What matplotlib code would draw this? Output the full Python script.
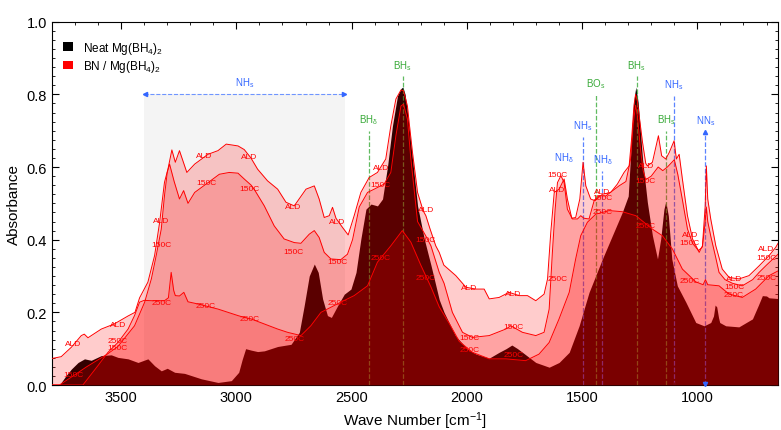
import numpy as np
import matplotlib
matplotlib.use("Agg")
import matplotlib.pyplot as plt
from matplotlib.patches import Patch, Rectangle
from matplotlib.ticker import MultipleLocator

plt.rcParams['font.family'] = ['Liberation Sans', 'DejaVu Sans']
plt.rcParams['mathtext.default'] = 'regular'

## ---- spectra (wave number, absorbance) ----
wn_neat = [3800, 3768, 3740, 3716, 3687, 3659, 3630, 3586, 3543, 3514, 3470, 3427, 3384, 3355,
           3326, 3300, 3268, 3225, 3152, 3080, 3022, 2990, 2975, 2960, 2936, 2908, 2879, 2821,
           2763, 2727, 2706, 2684, 2662, 2645, 2626, 2605, 2588, 2561, 2532, 2503, 2481, 2460,
           2438, 2416, 2388, 2366, 2344, 2323, 2301, 2286, 2278, 2268, 2258, 2236, 2214, 2185,
           2156, 2120, 2099, 2050, 2000, 1960, 1903, 1860, 1830, 1805, 1780, 1759, 1701, 1643,
           1600, 1556, 1513, 1470, 1441, 1412, 1369, 1326, 1300, 1289, 1280, 1272, 1267, 1257,
           1238, 1217, 1195, 1173, 1159, 1145, 1137, 1126, 1111, 1087, 1050, 1007, 971, 942,
           930, 923, 916, 908, 903, 877, 820, 761, 735, 718, 700, 689, 650]
abs_neat = [0.0, 0.0, 0.025, 0.044, 0.062, 0.072, 0.068, 0.081, 0.083, 0.076, 0.072, 0.062, 0.072, 0.053,
            0.039, 0.046, 0.035, 0.032, 0.017, 0.007, 0.012, 0.035, 0.07, 0.10, 0.096, 0.092, 0.094, 0.106,
            0.112, 0.145, 0.218, 0.30, 0.333, 0.31, 0.237, 0.191, 0.186, 0.218, 0.25, 0.264, 0.31, 0.402,
            0.484, 0.498, 0.493, 0.512, 0.603, 0.713, 0.796, 0.816, 0.82, 0.80, 0.75, 0.622, 0.493, 0.402,
            0.33, 0.235, 0.20, 0.136, 0.10, 0.085, 0.074, 0.09, 0.10, 0.11, 0.10, 0.09, 0.062, 0.049,
            0.062, 0.09, 0.163, 0.255, 0.301, 0.347, 0.411, 0.475, 0.52, 0.64, 0.75, 0.80, 0.82, 0.778,
            0.622, 0.503, 0.411, 0.347, 0.402, 0.484, 0.505, 0.466, 0.347, 0.273, 0.228, 0.172, 0.163, 0.172,
            0.19, 0.22, 0.215, 0.185, 0.172, 0.163, 0.16, 0.182, 0.22, 0.246, 0.245, 0.24, 0.238]

wn_ald = [3800, 3760, 3716, 3673, 3660, 3644, 3586, 3530, 3470, 3440, 3420, 3384, 3355, 3333,
          3312, 3297, 3280, 3265, 3247, 3215, 3181, 3123, 3080, 3044, 2993, 2966, 2937, 2908,
          2865, 2821, 2785, 2749, 2698, 2662, 2641, 2619, 2597, 2583, 2568, 2540, 2515, 2489,
          2460, 2424, 2388, 2352, 2330, 2308, 2286, 2275, 2258, 2250, 2236, 2214, 2190, 2178,
          2160, 2135, 2120, 2100, 2048, 2004, 1961, 1925, 1903, 1860, 1817, 1773, 1737, 1701,
          1665, 1650, 1636, 1621, 1600, 1578, 1564, 1545, 1528, 1510, 1496, 1484, 1463, 1444,
          1412, 1376, 1347, 1318, 1296, 1285, 1275, 1268, 1260, 1247, 1238, 1224, 1217, 1195,
          1169, 1155, 1137, 1122, 1101, 1091, 1079, 1065, 1043, 1021, 992, 978, 966, 961,
          955, 942, 920, 892, 862, 819, 776, 732, 689, 660, 650]
abs_ald = [0.073, 0.078, 0.104, 0.136, 0.14, 0.13, 0.154, 0.168, 0.19, 0.20, 0.24, 0.283, 0.356, 0.448,
           0.558, 0.594, 0.647, 0.613, 0.645, 0.585, 0.608, 0.635, 0.645, 0.663, 0.658, 0.648, 0.625, 0.594,
           0.562, 0.539, 0.503, 0.493, 0.539, 0.548, 0.512, 0.461, 0.466, 0.489, 0.459, 0.434, 0.413, 0.466,
           0.53, 0.571, 0.585, 0.622, 0.713, 0.787, 0.812, 0.81, 0.768, 0.72, 0.64, 0.53, 0.48, 0.466,
           0.43, 0.383, 0.365, 0.33, 0.301, 0.269, 0.264, 0.264, 0.237, 0.241, 0.255, 0.246, 0.246, 0.232,
           0.25, 0.292, 0.42, 0.53, 0.539, 0.567, 0.512, 0.459, 0.461, 0.512, 0.613, 0.548, 0.512, 0.507,
           0.525, 0.53, 0.553, 0.585, 0.603, 0.68, 0.77, 0.80, 0.78, 0.713, 0.668, 0.61, 0.603, 0.613,
           0.686, 0.631, 0.622, 0.64, 0.672, 0.622, 0.635, 0.567, 0.466, 0.402, 0.365, 0.383, 0.493, 0.603,
           0.512, 0.457, 0.383, 0.319, 0.296, 0.292, 0.301, 0.328, 0.356, 0.379, 0.39]

wn_150 = [3800, 3768, 3720, 3650, 3560, 3514, 3442, 3398, 3369, 3348, 3326, 3312, 3300, 3290,
          3270, 3247, 3229, 3210, 3181, 3123, 3074, 3031, 2993, 2966, 2936, 2923, 2879, 2836,
          2793, 2749, 2720, 2684, 2662, 2641, 2619, 2590, 2547, 2518, 2496, 2467, 2431, 2402,
          2359, 2330, 2308, 2286, 2275, 2258, 2243, 2214, 2178, 2156, 2120, 2099, 2063, 2019,
          1976, 1903, 1831, 1809, 1759, 1701, 1665, 1643, 1629, 1617, 1607, 1592, 1578, 1564,
          1542, 1520, 1506, 1492, 1470, 1448, 1427, 1398, 1340, 1310, 1290, 1278, 1268, 1260,
          1247, 1235, 1224, 1200, 1170, 1150, 1130, 1100, 1085, 1065, 1043, 1021, 995, 978,
          966, 961, 955, 942, 920, 906, 880, 848, 805, 760, 732, 700, 675, 650]
abs_150 = [0.0, 0.0, 0.02, 0.05, 0.085, 0.106, 0.163, 0.228, 0.292, 0.356, 0.429, 0.521, 0.585, 0.608,
           0.56, 0.512, 0.535, 0.5, 0.53, 0.557, 0.58, 0.585, 0.583, 0.567, 0.55, 0.539, 0.493, 0.438,
           0.402, 0.392, 0.39, 0.415, 0.425, 0.406, 0.365, 0.347, 0.345, 0.36, 0.40, 0.49, 0.53, 0.539,
           0.553, 0.585, 0.686, 0.768, 0.773, 0.732, 0.622, 0.45, 0.41, 0.383, 0.31, 0.28, 0.20, 0.145,
           0.131, 0.136, 0.154, 0.163, 0.145, 0.136, 0.145, 0.209, 0.365, 0.484, 0.557, 0.576, 0.557, 0.484,
           0.457, 0.457, 0.466, 0.459, 0.457, 0.507, 0.521, 0.52, 0.548, 0.56, 0.62, 0.72, 0.77, 0.74,
           0.65, 0.59, 0.565, 0.575, 0.60, 0.59, 0.60, 0.62, 0.58, 0.51, 0.43, 0.39, 0.37, 0.38,
           0.45, 0.49, 0.45, 0.41, 0.35, 0.31, 0.29, 0.28, 0.273, 0.29, 0.31, 0.33, 0.345, 0.36]

wn_250 = [3800, 3666, 3601, 3557, 3514, 3470, 3442, 3420, 3400, 3369, 3312, 3295, 3283, 3272,
          3265, 3247, 3228, 3210, 3167, 3080, 2993, 2966, 2937, 2879, 2821, 2778, 2720, 2677,
          2633, 2590, 2547, 2489, 2431, 2388, 2330, 2280, 2243, 2200, 2156, 2120, 2077, 2033,
          1976, 1903, 1831, 1745, 1687, 1643, 1600, 1556, 1528, 1506, 1477, 1441, 1383, 1326,
          1267, 1195, 1152, 1108, 1065, 1007, 975, 965, 955, 906, 862, 805, 747, 689, 650]
abs_250 = [0.0, 0.0, 0.053, 0.09, 0.117, 0.154, 0.191, 0.228, 0.233, 0.232, 0.232, 0.24, 0.31, 0.26,
           0.246, 0.245, 0.255, 0.229, 0.223, 0.209, 0.191, 0.186, 0.182, 0.168, 0.154, 0.145, 0.136, 0.163,
           0.20, 0.214, 0.228, 0.246, 0.273, 0.338, 0.383, 0.425, 0.393, 0.33, 0.27, 0.215, 0.17, 0.12,
           0.09, 0.072, 0.072, 0.067, 0.085, 0.117, 0.182, 0.255, 0.347, 0.411, 0.448, 0.47, 0.48, 0.477,
           0.466, 0.429, 0.411, 0.374, 0.319, 0.284, 0.276, 0.29, 0.276, 0.273, 0.25, 0.241, 0.264, 0.301, 0.314]

## ---- inline curve labels (text, wave number, absorbance) ----
curve_lbl = ["ALD", "ALD", "150C", "150C", "ALD", "ALD", "ALD", "150C", "150C", "150C",
             "250C", "250C", "250C", "ALD", "ALD", "250C", "150C", "150C",
             "250C", "250C", "250C", "ALD", "150C", "ALD", "150C", "250C",
             "ALD", "ALD", "150C", "150C", "250C", "250C", "250C", "150C", "ALD",
             "ALD", "150C", "250C", "ALD", "150C", "250C", "ALD", "150C", "250C",
             "ALD", "150C", "250C", "ALD", "150C", "250C"]
curve_lbl_wn = [3139, 2944, 3132, 2944, 2752, 2561, 3327, 3325, 2754, 2561,
                3326, 3135, 2944, 3514, 3709, 3514, 3514, 3709,
                2749, 2561, 2373, 2373, 2373, 2178, 2178, 2178,
                1990, 1799, 1799, 1987, 1987, 1799, 1607, 1607, 1607,
                1412, 1412, 1412, 1224, 1224, 1224, 1033, 1033, 1033,
                841, 841, 841, 700, 700, 700]
curve_lbl_y = [0.633, 0.629, 0.556, 0.542, 0.49, 0.449, 0.454, 0.386, 0.367, 0.339,
               0.226, 0.218, 0.182, 0.166, 0.113, 0.122, 0.104, 0.03,
               0.128, 0.228, 0.351, 0.599, 0.553, 0.484, 0.40, 0.296,
               0.269, 0.252, 0.16, 0.131, 0.099, 0.083, 0.292, 0.578, 0.539,
               0.532, 0.516, 0.478, 0.603, 0.562, 0.438, 0.415, 0.392, 0.287,
               0.292, 0.27, 0.248, 0.375, 0.352, 0.295]

## ---- band assignments ----
band_wn = [2426, 2279, 1497, 1441, 1412, 1264, 1136, 1101, 965]
band_top = [0.70, 0.85, 0.683, 0.80, 0.59, 0.85, 0.70, 0.796, 0.697]
band_lbl = ["BH$_\\delta$", "BH$_s$", "NH$_s$", "BO$_s$", "NH$_\\delta$", "BH$_s$", "BH$_s$", "NH$_s$", "NN$_s$"]
band_kind = ["g", "g", "b", "g", "b", "g", "g", "b", "b"]

green = '#3aaa3a'
blue = '#3366ff'

fig = plt.figure(figsize=(7.81, 4.31), dpi=100)
ax = fig.add_axes([0.0666, 0.1044, 0.9296, 0.843])

## grey NH stretch region with double arrow
ax.add_patch(Rectangle((2530, 0), 3400 - 2530, 0.8, facecolor='#f4f4f4', edgecolor='none', zorder=0.5))
ax.plot([3400, 2530], [0.8, 0.8], ls='--', color='#6f95ff', lw=0.8, zorder=6)
ax.plot([3395], [0.8], marker='<', color='#3366ff', ms=3, zorder=6)
ax.plot([2535], [0.8], marker='>', color='#3366ff', ms=3, zorder=6)
ax.text(2965, 0.815, "NH$_s$", color=blue, fontsize=7, ha='center', va='bottom', zorder=6)

## neat sample in black, BN samples as stacked translucent red
ax.fill_between(wn_neat, 0, abs_neat, color='black', lw=0, zorder=1)

for w, t, lb, k in zip(band_wn, band_top, band_lbl, band_kind):
    c = green if k == "g" else blue
    ax.plot([w, w], [0, t], ls='--', color=c, lw=0.9, alpha=0.8, zorder=1.5)
    ax.text(w, t + 0.012, lb, color=c, fontsize=7, ha='center', va='bottom', zorder=6)
ax.plot([965], [0.697], marker='^', color=blue, ms=3, zorder=6)
ax.plot([965], [0.004], marker='v', color=blue, ms=3, zorder=6, clip_on=False)
ax.text(1578, 0.607, "NH$_\\delta$", color=blue, fontsize=7, ha='center', va='bottom', zorder=6)

for wn, ab, z in [(wn_ald, abs_ald, 2), (wn_150, abs_150, 3), (wn_250, abs_250, 4)]:
    ax.fill_between(wn, 0, ab, color='red', alpha=0.2, lw=0, zorder=z)
    ax.plot(wn, ab, color='red', lw=0.7, zorder=5)

for t, x, y in zip(curve_lbl, curve_lbl_wn, curve_lbl_y):
    ax.text(x, y, t, color='red', fontsize=6, ha='center', va='center', zorder=7, clip_on=True)

ax.set_xlim(3800, 650)
ax.set_ylim(0, 1.0)
ax.xaxis.set_major_locator(MultipleLocator(500))
ax.xaxis.set_minor_locator(MultipleLocator(100))
ax.yaxis.set_major_locator(MultipleLocator(0.2))
ax.yaxis.set_minor_locator(MultipleLocator(0.025))
ax.yaxis.set_major_formatter(matplotlib.ticker.FormatStrFormatter('%.1f'))
ax.tick_params(which='both', direction='in', top=True, right=True, labelsize=10.5)
ax.tick_params(which='major', length=5, width=0.8)
ax.tick_params(which='minor', length=2.5, width=0.6)
ax.set_xlabel("Wave Number [cm$^{-1}$]", fontsize=11)
ax.set_ylabel("Absorbance", fontsize=11)

handles = [Patch(facecolor='black'), Patch(facecolor='red')]
ax.legend(handles, ["Neat Mg(BH$_4$)$_2$", "BN / Mg(BH$_4$)$_2$"], loc='upper left',
          bbox_to_anchor=(0.0, 0.98), frameon=False, fontsize=8.5, handlelength=0.9,
          handleheight=0.7, handletextpad=0.8, labelspacing=0.2)

fig.savefig("out.png", dpi=100)
